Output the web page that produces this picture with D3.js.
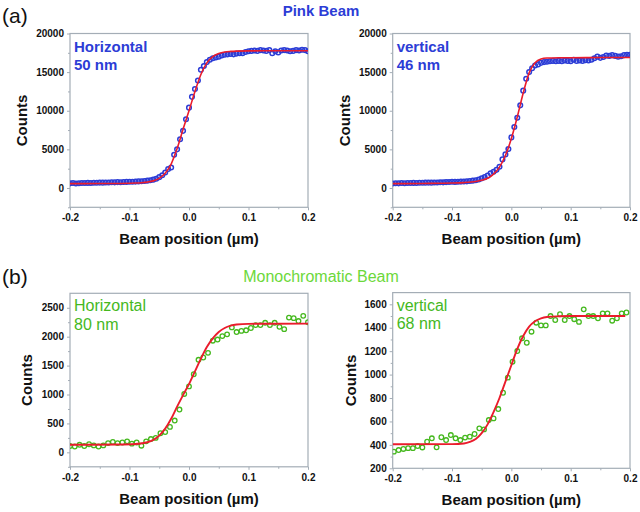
<!DOCTYPE html>
<html><head><meta charset="utf-8">
<script src="https://cdn.jsdelivr.net/npm/d3@7"></script>
<style>body{margin:0;background:#fff}svg{display:block}</style>
</head><body>
<svg id="c" width="640" height="512"></svg>
<script>
// ---------- DATA ----------
const xPink = [-0.200,-0.195,-0.190,-0.185,-0.180,-0.175,-0.170,-0.165,-0.160,-0.155,-0.150,-0.145,-0.140,-0.135,-0.130,-0.125,-0.120,-0.115,-0.110,-0.105,-0.100,-0.095,-0.090,-0.085,-0.080,-0.075,-0.070,-0.065,-0.060,-0.055,-0.050,-0.045,-0.040,-0.035,-0.030,-0.025,-0.020,-0.015,-0.010,-0.005,0.000,0.005,0.010,0.015,0.020,0.025,0.030,0.035,0.040,0.045,0.050,0.055,0.060,0.065,0.070,0.075,0.080,0.085,0.090,0.095,0.100,0.105,0.110,0.115,0.120,0.125,0.130,0.135,0.140,0.145,0.150,0.155,0.160,0.165,0.170,0.175,0.180,0.185,0.190,0.195,0.200];

const countsPinkH = [600,640,590,620,650,640,660,650,680,670,700,690,720,710,740,730,760,750,770,790,800,
  810,830,850,880,910,950,1000,1080,1200,1400,
  1650,2000,2450,2650,4300,5000,6300,7400,8900,10400,
  11800,12800,13900,15300,15800,16300,16600,16800,16900,17000,
  17150,17250,17300,17350,17300,17400,17450,17450,17600,17700,
  17750,17800,17750,17850,17800,17750,17850,17450,17700,17550,
  17800,17850,17800,17700,17750,17850,17800,17900,17850,17700];

const countsPinkV = [580,620,600,640,620,650,640,660,650,680,670,690,700,690,720,710,740,730,760,780,800,
  790,810,830,840,860,900,950,1000,1100,1250,
  1400,1600,1900,2100,2350,2750,3700,4350,5050,6550,
  7900,9100,10700,12600,14150,15000,15500,15850,16000,16200,
  16300,16350,16400,16450,16400,16450,16400,16500,16450,16400,
  16600,16450,16500,16450,16550,16500,16600,16800,17000,16850,
  16950,17150,17100,17200,17100,17000,17050,17200,17250,17250];

const fitXPinkH = [-0.2,-0.15,-0.1,-0.09,-0.08,-0.07,-0.06,-0.05,-0.04,-0.03,-0.02,-0.01,0,0.01,0.02,0.03,0.04,0.05,0.06,0.07,0.08,0.1,0.15,0.2];
const fitYPinkH = [560,580,620,640,680,760,920,1250,1900,3100,5100,7600,10000,12500,14700,16200,17000,17400,17600,17680,17720,17750,17760,17760];

const fitXPinkV = [-0.2,-0.15,-0.1,-0.08,-0.06,-0.05,-0.04,-0.03,-0.02,-0.01,0,0.01,0.02,0.03,0.04,0.05,0.06,0.08,0.1,0.15,0.2];
const fitYPinkV = [560,590,640,700,850,1000,1250,1800,2700,4200,6400,9200,12300,14900,16200,16700,16820,16860,16870,16890,16900];

const xMonoH = [-0.200,-0.192,-0.184,-0.176,-0.168,-0.160,-0.152,-0.144,-0.136,-0.128,-0.120,-0.112,-0.104,-0.096,-0.088,-0.080,-0.072,-0.064,-0.056,-0.048,-0.040,-0.032,-0.024,-0.016,-0.008,0.000,0.008,0.016,0.024,0.032,0.040,0.048,0.056,0.064,0.072,0.080,0.088,0.096,0.104,0.112,0.120,0.128,0.136,0.144,0.152,0.160,0.168,0.176,0.184,0.192,0.200];
const countsMonoH = [110,100,130,110,140,120,100,120,160,180,160,170,190,150,170,115,190,230,250,330,350,440,550,740,1010,1140,1350,1600,1640,1720,1930,1950,2010,2040,2160,2080,2100,2110,2150,2200,2200,2240,2200,2240,2170,2130,2330,2320,2270,2360,2250];

const xMonoV = [-0.198,-0.190,-0.182,-0.174,-0.166,-0.158,-0.150,-0.142,-0.134,-0.126,-0.118,-0.110,-0.102,-0.094,-0.086,-0.078,-0.070,-0.062,-0.054,-0.046,-0.038,-0.030,-0.022,-0.014,-0.006,0.002,0.010,0.018,0.026,0.034,0.042,0.050,0.058,0.066,0.074,0.082,0.090,0.098,0.106,0.114,0.122,0.130,0.138,0.146,0.154,0.162,0.170,0.178,0.186,0.194];
const countsMonoV = [342,356,365,372,372,390,378,427,456,379,465,441,484,456,441,462,470,493,541,532,612,626,706,845,974,1110,1201,1310,1272,1366,1443,1420,1420,1500,1466,1515,1466,1500,1473,1450,1557,1500,1500,1480,1523,1523,1460,1480,1523,1530];

const fitXMonoH = [-0.2,-0.12,-0.09,-0.07,-0.06,-0.05,-0.04,-0.03,-0.02,-0.01,0,0.01,0.02,0.03,0.04,0.05,0.06,0.07,0.08,0.1,0.2];
const fitYMonoH = [130,135,145,175,215,290,410,580,790,990,1180,1400,1620,1820,1970,2080,2150,2190,2210,2222,2225];

const fitXMonoV = [-0.2,-0.1,-0.08,-0.07,-0.06,-0.05,-0.04,-0.03,-0.02,-0.01,0,0.01,0.02,0.03,0.04,0.05,0.06,0.08,0.1,0.192];
const fitYMonoV = [405,406,412,425,450,500,575,680,800,940,1080,1220,1330,1410,1455,1480,1492,1498,1500,1500];

const xTicks = [-0.2,-0.1,0,0.1,0.2];
const xMinor = [-0.15,-0.05,0.05,0.15];
const yTicksPink = [0,5000,10000,15000,20000];
const yMinorPink = [-2500,2500,7500,12500,17500];
const yTicksMonoH = [0,500,1000,1500,2000,2500];
const yMinorMonoH = [-250,250,750,1250,1750,2250];
const yTicksMonoV = [200,400,600,800,1000,1200,1400,1600];
const yMinorMonoV = [300,500,700,900,1100,1300,1500];

const groupTitles = ["Pink Beam","Monochromatic Beam"];
const groupLetters = ["(a)","(b)"];
const panelLabels = [["Horizontal","50 nm"],["vertical","46 nm"],["Horizontal","80 nm"],["vertical","68 nm"]];

// ---------- DRAW ----------
const svg = d3.select("#c");
const FONT = "'Liberation Sans', Arial, Helvetica, sans-serif";
const BLUE = "#2c3dd6", GREEN = "#45b81e", RED = "#ea1c2c", FRAME = "#a4adb6";
let clipId = 0;

function panel(o){
  const x = d3.scaleLinear().domain([-0.2,0.2]).range([o.x0,o.x1]);
  const y = d3.scaleLinear().domain(o.yDomain).range([o.y0,o.y1]);
  const g = svg.append("g");
  const id = "clip" + (clipId++);
  svg.append("clipPath").attr("id",id).append("rect")
    .attr("x",o.x0).attr("y",o.y1).attr("width",o.x1-o.x0).attr("height",o.y0-o.y1);

  // minor ticks
  g.append("g").attr("transform",`translate(${o.x0},0)`)
    .call(d3.axisLeft(y).tickValues(o.yMinor).tickSize(2).tickFormat(""))
    .call(s=>{s.select(".domain").remove(); s.selectAll("line").attr("stroke",FRAME);});
  g.append("g").attr("transform",`translate(0,${o.y0})`)
    .call(d3.axisBottom(x).tickValues(xMinor).tickSize(2).tickFormat(""))
    .call(s=>{s.select(".domain").remove(); s.selectAll("line").attr("stroke",FRAME);});
  // major ticks
  g.append("g").attr("transform",`translate(${o.x0},0)`)
    .call(d3.axisLeft(y).tickValues(o.yTicks).tickSize(3).tickPadding(3).tickFormat(d=>String(d)))
    .call(s=>{s.select(".domain").remove(); s.selectAll("line").attr("stroke",FRAME);
      s.selectAll("text").attr("fill","#111").style("font-family",FONT).style("font-size","10px").style("font-weight","bold");});
  g.append("g").attr("transform",`translate(0,${o.y0})`)
    .call(d3.axisBottom(x).tickValues(xTicks).tickSize(3).tickPadding(4).tickFormat(d=>d.toFixed(1)))
    .call(s=>{s.select(".domain").remove(); s.selectAll("line").attr("stroke",FRAME);
      s.selectAll("text").attr("fill","#111").style("font-family",FONT).style("font-size","10px").style("font-weight","bold");});

  // frame
  g.append("rect").attr("x",o.x0).attr("y",o.y1).attr("width",o.x1-o.x0).attr("height",o.y0-o.y1)
    .attr("fill","none").attr("stroke",FRAME).attr("stroke-width",1.2);

  const pts = o.xs.map((v,i)=>[v,o.ys[i]]);
  const fit = o.fx.map((v,i)=>[v,o.fy[i]]);
  const pg = g.append("g").attr("clip-path",`url(#${id})`);
  pg.selectAll("circle").data(pts).join("circle")
    .attr("cx",d=>x(d[0])).attr("cy",d=>y(d[1])).attr("r",o.r)
    .attr("fill","none").attr("stroke",o.ptColor).attr("stroke-width",o.sw);
  pg.append("path").datum(fit)
    .attr("d",d3.line().x(d=>x(d[0])).y(d=>y(d[1])).curve(d3.curveMonotoneX))
    .attr("fill","none").attr("stroke",RED).attr("stroke-width",o.lw);

  // axis titles
  g.append("text").attr("transform",`translate(${o.x0-o.ytOff},${(o.y0+o.y1)/2}) rotate(-90)`)
    .attr("text-anchor","middle").style("font-family",FONT).style("font-size","15px").style("font-weight","bold")
    .attr("fill","#111").text("Counts");
  g.append("text").attr("x",(o.x0+o.x1)/2).attr("y",o.y0+37).attr("text-anchor","middle")
    .style("font-family",FONT).style("font-size","15px").style("font-weight","bold").attr("fill","#111")
    .text("Beam position (\u00b5m)");

  // inner label
  o.label.forEach((t,i)=>{
    g.append("text").attr("x",o.x0+4).attr("y",o.y1+18+i*18.5)
      .style("font-family",FONT).style("font-size",o.lblSize).style("font-weight",o.lblWeight)
      .attr("fill",o.lblColor).text(t);
  });
}

panel({x0:70,x1:308,y0:207.3,y1:33.5,yDomain:[-2500,20000],yTicks:yTicksPink,yMinor:yMinorPink,
  xs:xPink,ys:countsPinkH,fx:fitXPinkH,fy:fitYPinkH,ptColor:BLUE,r:2.3,sw:1.5,lw:1.6,ytOff:43,
  label:panelLabels[0],lblColor:BLUE,lblSize:"15px",lblWeight:"bold"});
panel({x0:392.7,x1:630,y0:207.3,y1:33.5,yDomain:[-2500,20000],yTicks:yTicksPink,yMinor:yMinorPink,
  xs:xPink,ys:countsPinkV,fx:fitXPinkV,fy:fitYPinkV,ptColor:BLUE,r:2.3,sw:1.5,lw:1.6,ytOff:43,
  label:panelLabels[1],lblColor:BLUE,lblSize:"15px",lblWeight:"bold"});
panel({x0:70,x1:308,y0:466.8,y1:293.3,yDomain:[-250,2750],yTicks:yTicksMonoH,yMinor:yMinorMonoH,
  xs:xMonoH,ys:countsMonoH,fx:fitXMonoH,fy:fitYMonoH,ptColor:GREEN,r:2.3,sw:1.3,lw:1.9,ytOff:38,
  label:panelLabels[2],lblColor:GREEN,lblSize:"16px",lblWeight:"normal"});
panel({x0:392.7,x1:630,y0:468.3,y1:292.6,yDomain:[200,1700],yTicks:yTicksMonoV,yMinor:yMinorMonoV,
  xs:xMonoV,ys:countsMonoV,fx:fitXMonoV,fy:fitYMonoV,ptColor:GREEN,r:2.3,sw:1.3,lw:1.9,ytOff:37,
  label:panelLabels[3],lblColor:GREEN,lblSize:"16px",lblWeight:"normal"});

// group titles
svg.append("text").attr("x",321).attr("y",16).attr("text-anchor","middle")
  .style("font-family",FONT).style("font-size","15px").style("font-weight","bold").attr("fill",BLUE).text(groupTitles[0]);
svg.append("text").attr("x",321).attr("y",282).attr("text-anchor","middle")
  .style("font-family",FONT).style("font-size","16px").attr("fill","#6cd83a").text(groupTitles[1]);
svg.append("text").attr("x",2).attr("y",23)
  .style("font-family",FONT).style("font-size","21px").attr("fill","#111").text(groupLetters[0]);
svg.append("text").attr("x",2).attr("y",284)
  .style("font-family",FONT).style("font-size","21px").attr("fill","#111").text(groupLetters[1]);
</script>
</body></html>
